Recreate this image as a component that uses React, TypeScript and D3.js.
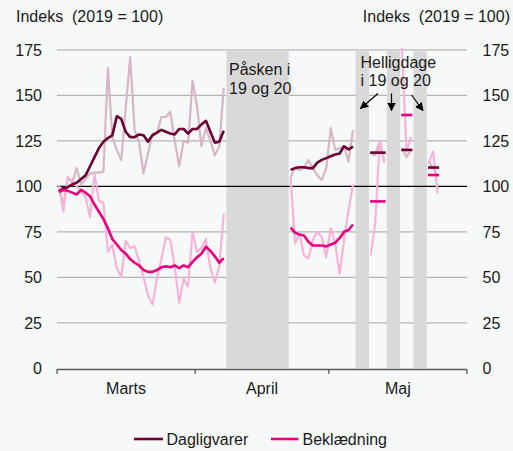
import React from "react";
import * as d3 from "d3";

// day-by-day index vs 2019 (2019 = 100)
const seg1Start = new Date(2020, 2, 1);
const dagligvarerDaily1 = [100.5, 89, 105, 102, 110, 101, 104, 107, 107.5, 107.5, 108, 165, 127, 120, 114.5, 143, 171, 131, 124, 107, 118, 129, 129, 138, 138, 141, 125, 111, 125, 124, 158, 144, 122, 132, 125, 117, 122, 154];
const dagligvarerAvg1 = [97, 99, 99.5, 101, 102, 104, 106, 111, 116, 121, 124.5, 126.5, 128, 138.5, 137, 130, 127, 127, 128.5, 128, 124.5, 128, 129.5, 131, 130, 129, 128.5, 131.5, 131.5, 129, 131.5, 131.5, 134, 136, 130, 124, 124.5, 130.5];
const beklaedningDaily1 = [100, 86, 105, 103, 100, 97, 94, 83, 107, 92, 91, 64, 68, 55, 50, 70, 66, 67, 59, 50, 40, 35, 49, 60, 72, 70.5, 56, 36, 49, 45, 75, 64, 66, 71, 55, 47, 56, 85];
const beklaedningAvg1 = [97, 98, 97.5, 96.5, 95.5, 98, 96.5, 94.5, 90, 86, 82, 77, 71, 68, 65, 63, 60, 58, 56.5, 54, 53, 53, 54, 55.5, 56, 55.5, 56.5, 55, 56.5, 55.5, 58.5, 61, 63, 66.8, 64.5, 61.5, 58, 60.5];

const seg2Start = new Date(2020, 3, 22);
const dagligvarerDaily2 = [105, 110, 109, 110, 114.5, 110, 106, 103.5, 110, 132, 120, 121, 122, 113.5, 131];
const dagligvarerAvg2 = [109, 110, 110.5, 110.5, 110, 110, 113, 114.5, 115.5, 116.5, 117.5, 118, 122, 120.3, 121.8];
const beklaedningDaily2 = [105, 68.5, 74, 62, 60.5, 70.5, 75, 72, 61, 77, 68.7, 52, 70.5, 87, 101];
const beklaedningAvg2 = [77.3, 74.5, 73.5, 73, 69.5, 67.5, 67.5, 67.5, 67, 68, 69, 71.5, 75, 76, 79];

// short runs between the May holidays
const majStarts = [new Date(2020, 4, 10), new Date(2020, 4, 17), new Date(2020, 4, 23)];
const dagligvarerMaj = [[118, 117, 125, 114], [121, 116, 120], [113.5, 110, 105]];
const beklaedningMaj = [[62, 80, 125, 113], [176, 119, 127], [113, 119, 96]];
const dagligvarerLevels = [118.5, 120, 110.3];
const beklaedningLevels = [91.7, 139.2, 106.2];

// holiday bands [from, to)
const bands = [
  [new Date(2020, 3, 8), new Date(2020, 3, 22)],
  [new Date(2020, 4, 7), new Date(2020, 4, 10)],
  [new Date(2020, 4, 14), new Date(2020, 4, 17)],
  [new Date(2020, 4, 20), new Date(2020, 4, 23)],
];

const yTicks = [0, 25, 50, 75, 100, 125, 150, 175];
const months = ["Marts", "April", "Maj"];

const W = 513;
const H = 451;
const C = {
  bg: "#f7f9f9",
  grid: "#b4b4b4",
  band: "#d9d9d9",
  dag: "#6b0035",
  dagLight: "#d7b6c6",
  bek: "#e6007e",
  bekLight: "#f6b4d8",
  axis: "#595959",
};
const font = "'Liberation Sans', Arial, sans-serif";

const addDays = (d: Date, n: number) => d3.timeHour.offset(d, Math.round(n * 24));

const App = () => {
  const x = d3.scaleTime().domain([new Date(2020, 2, 1), new Date(2020, 5, 1)]).range([57, 467]);
  const y = d3.scaleLinear().domain([0, 175]).range([368.3, 49.8]);

  const line = d3.line<number>().x((_, i) => 0).y((d) => y(d));
  const path = (start: Date, vals: number[]) =>
    d3.line<number>()
      .x((_, i) => x(addDays(start, i + 0.4)))
      .y((d) => y(d))(vals) || "";

  const monthStarts = d3.timeMonth.range(new Date(2020, 2, 1), new Date(2020, 5, 2));

  const series = [
    { start: seg1Start, vals: dagligvarerDaily1, color: C.dagLight, w: 2.2 },
    { start: seg1Start, vals: beklaedningDaily1, color: C.bekLight, w: 2.2 },
    { start: seg2Start, vals: dagligvarerDaily2, color: C.dagLight, w: 2.2 },
    { start: seg2Start, vals: beklaedningDaily2, color: C.bekLight, w: 2.2 },
    ...majStarts.map((s, i) => ({ start: s, vals: dagligvarerMaj[i], color: C.dagLight, w: 2.2 })),
    ...majStarts.map((s, i) => ({ start: s, vals: beklaedningMaj[i], color: C.bekLight, w: 2.2 })),
    { start: seg1Start, vals: dagligvarerAvg1, color: C.dag, w: 2.6 },
    { start: seg1Start, vals: beklaedningAvg1, color: C.bek, w: 2.6 },
    { start: seg2Start, vals: dagligvarerAvg2, color: C.dag, w: 2.6 },
    { start: seg2Start, vals: beklaedningAvg2, color: C.bek, w: 2.6 },
  ];
  void line;

  const levelSegs = [
    ...majStarts.map((s, i) => ({ s, n: dagligvarerMaj[i].length, v: dagligvarerLevels[i], color: C.dag })),
    ...majStarts.map((s, i) => ({ s, n: beklaedningMaj[i].length, v: beklaedningLevels[i], color: C.bek })),
  ];

  const textStyle = { fontFamily: font, fontSize: 16, fill: "#1a1a1a" };

  return (
    <>
      <style>{"body{margin:0}"}</style>
      <svg width={W} height={H} style={{ display: "block", background: C.bg }}>
        <defs>
          <marker id="arr" viewBox="0 0 10 10" refX="9" refY="5" markerWidth="7" markerHeight="7" orient="auto-start-reverse">
            <path d="M0,0 L10,5 L0,10 z" fill="#000" />
          </marker>
        </defs>

        {yTicks.filter((t) => t !== 0 && t !== 100).map((t) => (
          <line key={t} x1={x.range()[0]} x2={x.range()[1]} y1={y(t)} y2={y(t)} stroke={C.grid} strokeWidth={1.3} />
        ))}

        {bands.map(([a, b], i) => (
          <rect key={i} x={x(a)} y={y(175)} width={x(b) - x(a)} height={y(0) - y(175)} fill={C.band} />
        ))}

        <line x1={x.range()[0]} x2={x.range()[1]} y1={y(100)} y2={y(100)} stroke="#000" strokeWidth={1.2} />

        {series.map((s, i) => (
          <path key={i} d={path(s.start, s.vals)} fill="none" stroke={s.color} strokeWidth={s.w} strokeLinejoin="round" />
        ))}

        {levelSegs.map((m, i) => (
          <line key={i} x1={x(addDays(m.s, 0.25))} x2={x(addDays(m.s, m.n - 0.25))} y1={y(m.v)} y2={y(m.v)} stroke={m.color} strokeWidth={2.6} />
        ))}

        {/* x axis */}
        <line x1={x.range()[0]} x2={x.range()[1]} y1={369.5} y2={369.5} stroke={C.axis} strokeWidth={1.5} />
        {monthStarts.map((d, i) => (
          <line key={i} x1={x(d)} x2={x(d)} y1={369.5} y2={374} stroke={C.axis} strokeWidth={1.3} />
        ))}
        {months.map((m, i) => (
          <text key={m} x={(x(monthStarts[i]) + x(monthStarts[i + 1])) / 2} y={394} textAnchor="middle" style={textStyle}>{m}</text>
        ))}

        {/* y axes */}
        {yTicks.map((t) => (
          <g key={t}>
            <text x={42} y={y(t)} dy="0.36em" textAnchor="end" style={textStyle}>{t}</text>
            <text x={482.5} y={y(t)} dy="0.36em" textAnchor="start" style={textStyle}>{t}</text>
          </g>
        ))}
        <text x={16} y={22} style={{ ...textStyle, whiteSpace: "pre" }}>{"Indeks  (2019 = 100)"}</text>
        <text x={510} y={22} textAnchor="end" style={{ ...textStyle, whiteSpace: "pre" }}>{"Indeks  (2019 = 100)"}</text>

        {/* annotations */}
        <text x={229} y={75} style={textStyle}>Påsken i</text>
        <text x={229} y={94} style={textStyle}>19 og 20</text>
        <text x={360.5} y={68} style={textStyle}>Helligdage</text>
        <text x={360.5} y={86} style={textStyle}>i 19 og 20</text>
        <line x1={378} y1={93.5} x2={360.5} y2={108.5} stroke="#000" strokeWidth={1.2} markerEnd="url(#arr)" />
        <line x1={391.5} y1={93.5} x2={391.5} y2={110.5} stroke="#000" strokeWidth={1.2} markerEnd="url(#arr)" />
        <line x1={411.5} y1={95} x2={423} y2={110.5} stroke="#000" strokeWidth={1.2} markerEnd="url(#arr)" />

        {/* legend */}
        <line x1={134} x2={163} y1={439} y2={439} stroke={C.dag} strokeWidth={2.6} />
        <text x={166.5} y={439} dy="0.36em" style={textStyle}>Dagligvarer</text>
        <line x1={271} x2={298.5} y1={439} y2={439} stroke={C.bek} strokeWidth={2.6} />
        <text x={302.5} y={439} dy="0.36em" style={textStyle}>Beklædning</text>
      </svg>
    </>
  );
};

export default App;
